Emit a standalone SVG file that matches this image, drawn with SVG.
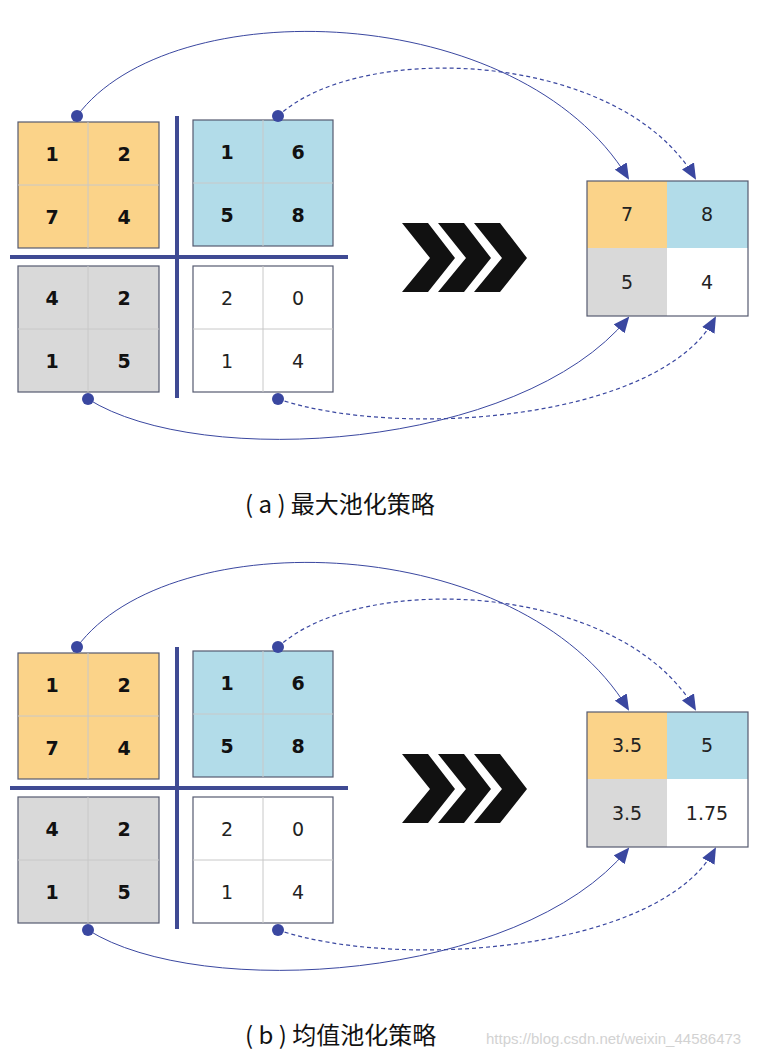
<svg xmlns="http://www.w3.org/2000/svg" width="759" height="1061" viewBox="0 0 759 1061">
<style>
.b{font-family:Verdana,"DejaVu Sans",sans-serif;font-size:19px;font-weight:bold;fill:#111;text-anchor:middle}
.n{font-family:Verdana,"DejaVu Sans",sans-serif;font-size:19px;fill:#222;text-anchor:middle}
.g{stroke:#c8c8c8;stroke-width:1}
.bx{stroke:#555a70;stroke-width:1.2}
.ax{stroke:#3f4a93;stroke-width:4;fill:none}
.c{fill:none;stroke:#3a47a0;stroke-width:1}
.d{fill:none;stroke:#3a47a0;stroke-width:1.2;stroke-dasharray:4 3}
.dot{fill:#3a47a0}
.cap{font-family:"Noto Sans CJK SC","Noto Sans",sans-serif;font-size:24px;fill:#111}
</style>
<defs>
<marker id="ar" markerWidth="16" markerHeight="14" refX="14" refY="7" orient="auto" markerUnits="userSpaceOnUse"><path d="M0,0 L16,7 L0,14 Z" fill="#3a47a0"/></marker>
<g id="panel">
<g id="in-orange"><rect x="18" y="122" width="141" height="126" fill="#fbd389" class="bx"/><line x1="88" y1="122" x2="88" y2="248" class="g"/><line x1="18" y1="185" x2="159" y2="185" class="g"/></g>
<g id="in-blue"><rect x="193" y="120" width="140" height="126" fill="#b2dce9" class="bx"/><line x1="263" y1="120" x2="263" y2="246" class="g"/><line x1="193" y1="183" x2="333" y2="183" class="g"/></g>
<g id="in-gray"><rect x="18" y="266" width="141" height="126" fill="#d9d9d9" class="bx"/><line x1="88" y1="266" x2="88" y2="392" class="g"/><line x1="18" y1="329" x2="159" y2="329" class="g"/></g>
<g id="in-white"><rect x="193" y="266" width="140" height="126" fill="#fff" class="bx"/><line x1="263" y1="266" x2="263" y2="392" class="g"/><line x1="193" y1="329" x2="333" y2="329" class="g"/></g>
<line x1="10" y1="257" x2="348" y2="257" class="ax"/><line x1="177" y1="116" x2="177" y2="398" class="ax"/>
<text class="b" x="52" y="161">1</text><text class="b" x="124" y="161">2</text><text class="b" x="52" y="224">7</text><text class="b" x="124" y="224">4</text>
<text class="b" x="227" y="159">1</text><text class="b" x="298" y="159">6</text><text class="b" x="227" y="222">5</text><text class="b" x="298" y="222">8</text>
<text class="b" x="52" y="305">4</text><text class="b" x="124" y="305">2</text><text class="b" x="52" y="368">1</text><text class="b" x="124" y="368">5</text>
<text class="n" x="227" y="305">2</text><text class="n" x="298" y="305">0</text><text class="n" x="227" y="368">1</text><text class="n" x="298" y="368">4</text>
<g id="chevrons" fill="#111">
<polygon points="402,223 428,223 455,258 428,292 402,292 430,258"/>
<polygon points="438,223 464,223 491,258 464,292 438,292 466,258"/>
<polygon points="474,223 500,223 527,258 500,292 474,292 502,258"/>
</g>
<g id="out-grid">
<rect x="587" y="181" width="80" height="67" fill="#fbd389"/><rect x="667" y="181" width="81" height="67" fill="#b2dce9"/>
<rect x="587" y="248" width="80" height="68" fill="#d9d9d9"/><rect x="667" y="248" width="81" height="68" fill="#fff"/>
<rect x="587" y="181" width="161" height="135" fill="none" class="bx"/>
</g>
<g id="connectors">
<path class="c" d="M77,116 C170,-10 520,0 628,178" marker-end="url(#ar)"/>
<path class="d" d="M278,116 C360,40 620,50 695,178" marker-end="url(#ar)"/>
<path class="c" d="M88,399 C200,470 520,450 628,318" marker-end="url(#ar)"/>
<path class="d" d="M278,399 C400,440 660,420 715,318" marker-end="url(#ar)"/>
<circle class="dot" cx="77" cy="116" r="6"/><circle class="dot" cx="278" cy="116" r="6"/>
<circle class="dot" cx="88" cy="399" r="6"/><circle class="dot" cx="278" cy="399" r="6"/>
</g>
</g>
</defs>
<rect width="759" height="1061" fill="#fff"/>
<g id="panel-a">
<use href="#panel"/>
<text class="n" x="627" y="221">7</text><text class="n" x="707" y="221">8</text><text class="n" x="627" y="289">5</text><text class="n" x="707" y="289">4</text>
<text class="cap" x="245" y="513">( a ) 最大池化策略</text>
</g>
<g id="panel-b" transform="translate(0,531)">
<use href="#panel"/>
<text class="n" x="627" y="221">3.5</text><text class="n" x="707" y="221">5</text><text class="n" x="627" y="289">3.5</text><text class="n" x="707" y="289">1.75</text>
<text class="cap" x="245" y="513">( b ) 均值池化策略</text>
</g>
<text x="486" y="1044" font-family="Liberation Sans,sans-serif" font-size="15" fill="#c8c8c8" opacity="0.8">https://blog.csdn.net/weixin_44586473</text>
</svg>
